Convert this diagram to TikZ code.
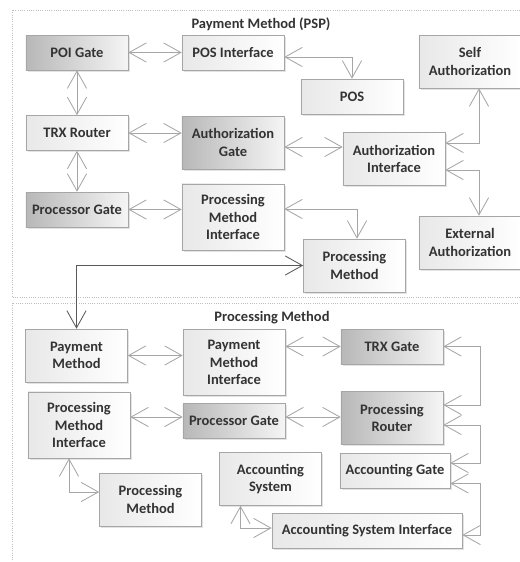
\documentclass[tikz,border=0pt]{standalone}
\usepackage{fontspec}
\setmainfont{Carlito}
\usetikzlibrary{arrows.meta,calc,shadows}

\begin{document}
\begin{tikzpicture}[
x=0.025cm,
y=-0.025cm,
every node/.style={font=\fontsize{10.3}{12.2}\selectfont\bfseries,text=black!80},
block/.style={rectangle,draw=black!35,left color=black!9,right color=white,align=center,inner sep=2pt,minimum width=2.55cm,minimum height=0.875cm,drop shadow={shadow xshift=1.1pt,shadow yshift=-1.1pt,fill=black!22}},
gateblock/.style={block,left color=black!28,right color=black!4},
arr/.style={{Straight Barb[length=4.3mm,width=4.8mm]}-{Straight Barb[length=4.3mm,width=4.8mm]},draw=black!35,line width=0.6pt},
link/.style={arr,draw=black!65},
panel/.style={draw=black!25,densely dotted,line width=0.6pt},
ttl/.style={inner sep=0pt}
]
\clip (0,0) rectangle (520,562);
\draw[panel] (12,10) rectangle (545,297);
\draw[panel] (12,303) rectangle (545,580);

% payment method (PSP)
\node[ttl] (pspttl) at (261,24) {Payment Method (PSP)};
\node[gateblock] (poigate) at (77,52.5) {POI Gate};
\node[block] (posif) at (233,52.5) {POS Interface};
\node[block] (pos) at (352,96.5) {POS};
\node[block,minimum height=1.325cm] (selfauth) at (470,61.5) {Self\\Authorization};
\node[block] (trxrouter) at (77,133) {TRX Router};
\node[gateblock,minimum height=1.325cm] (authgate) at (233,142.5) {Authorization\\Gate};
\node[block,minimum height=1.325cm] (authif) at (394,159) {Authorization\\Interface};
\node[gateblock] (procgate) at (77,209.5) {Processor Gate};
\node[block,minimum height=1.65cm] (procif) at (233,217) {Processing\\Method\\Interface};
\node[block,minimum height=1.325cm] (procmeth) at (354.5,265.5) {Processing\\Method};
\node[block,minimum height=1.325cm] (extauth) at (470,242.5) {External\\Authorization};

% processing method
\node[ttl] (pmttl) at (272,318) {Processing Method};
\node[block,minimum height=1.325cm] (paymeth) at (76.5,355.5) {Payment\\Method};
\node[block,minimum height=1.65cm] (payif) at (234,362.5) {Payment\\Method\\Interface};
\node[gateblock] (trxgate) at (392,346.5) {TRX Gate};
\node[block,minimum height=1.65cm] (procifb) at (79,425) {Processing\\Method\\Interface};
\node[gateblock] (procgateb) at (234,421) {Processor Gate};
\node[gateblock,minimum height=1.325cm] (procrouter) at (392,418) {Processing\\Router};
\node[block,minimum height=1.325cm] (accsys) at (270.5,479) {Accounting\\System};
\node[block,minimum width=2.75cm] (accgate) at (395,470.5) {Accounting Gate};
\node[block,minimum height=1.325cm] (procmethb) at (150.5,499.5) {Processing\\Method};
\node[block,minimum width=4.75cm] (accsysif) at (367,531) {Accounting System Interface};

\draw[arr] (poigate) -- (posif);
\draw[arr] (poigate) -- (trxrouter);
\draw[arr] (trxrouter.east) -- (trxrouter.east -| authgate.west);
\draw[arr] (trxrouter) -- (procgate);
\draw[arr] (procgate.east) -- (procgate.east -| procif.west);
\draw[arr] ($(posif.east)+(0,4.5)$) -| (pos.north);
\draw[arr] ($(selfauth.south)+(9,0)$) |- ($(authif.east)+(0,-16)$);
\coordinate (authrow) at ($(authgate.east)+(0,4.5)$);
\draw[arr] (authrow) -- (authrow -| authif.west);
\draw[arr] ($(extauth.north)+(9,0)$) |- ($(authif.east)+(0,11)$);
\draw[arr] ($(procif.east)+(0,-8)$) -| ($(procmeth.north)+(2.5,0)$);
\draw[link] (procmeth.west) -| (paymeth.north);

\draw[arr] (paymeth.east) -- (paymeth.east -| payif.west);
\draw[arr] (trxgate.west -| payif.east) -- (trxgate.west);
\coordinate (procrow) at ($(procgateb.west)+(0,-4)$);
\draw[arr] (procrow -| procifb.east) -- (procrow);
\draw[arr] (procrow -| procgateb.east) -- (procrow -| procrouter.west);
\coordinate (rbus) at (480,0);
\draw[arr] (trxgate.east) -- (trxgate.east -| rbus) |- ($(procrouter.east)+(0,-13)$);
\coordinate (prlow) at ($(procrouter.east)+(0,7)$);
\draw[arr] (prlow) -- (prlow -| rbus) |- ($(accgate.east)+(0,-7.5)$);
\coordinate (aglow) at ($(accgate.east)+(0,13)$);
\draw[arr] (aglow) -- (aglow -| rbus) |- ($(accsysif.east)+(0,4)$);
\draw[arr] ($(procifb.south)+(-10,0)$) |- ($(procmethb.west)+(0,-7.5)$);
\draw[arr] ($(accsys.south)+(-30,0)$) |- ($(accsysif.west)+(0,-3)$);
\end{tikzpicture}
\end{document}
